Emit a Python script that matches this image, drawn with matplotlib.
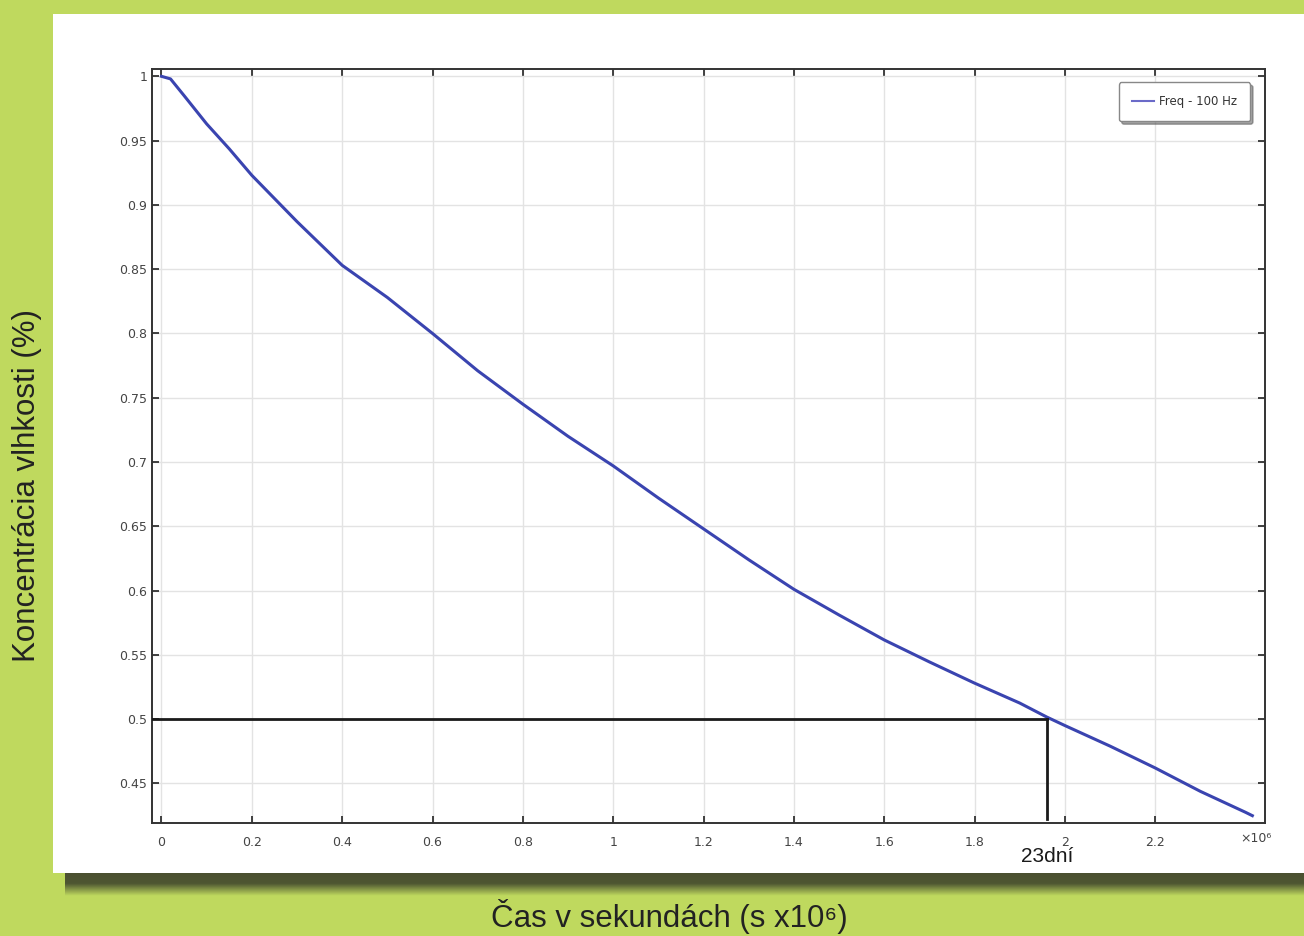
import numpy as np
import matplotlib
matplotlib.use('Agg')
import matplotlib.pyplot as plt

# curve (time in s x10^6, concentration)
cas = [0.0, 0.02, 0.05, 0.1, 0.15, 0.2, 0.3, 0.4, 0.5, 0.6, 0.7, 0.8, 0.9, 1.0,
       1.1, 1.2, 1.3, 1.4, 1.5, 1.6, 1.7, 1.8, 1.9, 1.96, 2.0, 2.1, 2.2, 2.3,
       2.4, 2.415]
konc = [1.0, 0.998, 0.985, 0.963, 0.9436, 0.923, 0.887, 0.853, 0.828, 0.800,
        0.771, 0.745, 0.720, 0.697, 0.672, 0.648, 0.624, 0.601, 0.581, 0.5616,
        0.5445, 0.528, 0.5125, 0.5016, 0.495, 0.479, 0.462, 0.4438, 0.4275,
        0.4249]

serie_label = 'Freq - 100 Hz'
x_ticks = [0, 0.2, 0.4, 0.6, 0.8, 1, 1.2, 1.4, 1.6, 1.8, 2, 2.2]
x_labels = ['0', '0.2', '0.4', '0.6', '0.8', '1', '1.2', '1.4', '1.6', '1.8', '2', '2.2']
y_ticks = [0.45, 0.5, 0.55, 0.6, 0.65, 0.7, 0.75, 0.8, 0.85, 0.9, 0.95, 1]
y_labels = ['0.45', '0.5', '0.55', '0.6', '0.65', '0.7', '0.75', '0.8', '0.85', '0.9', '0.95', '1']
mark_x = 1.96
mark_y = 0.5
mark_text = '23dní'

green = '#bfd95e'
tick_font = ['Liberation Sans Narrow', 'DejaVu Sans']
label_font = ['Liberation Sans', 'DejaVu Sans']

fig = plt.figure(figsize=(13.04, 9.36), dpi=100)
fig.patch.set_facecolor(green)

# shadow under the white panel
sh = fig.add_axes([0.05, 0.043, 0.95, 0.026])
grad = np.linspace(0, 1, 50).reshape(-1, 1)
cm = matplotlib.colors.LinearSegmentedColormap.from_list('sh', ['#4a4f30', '#4e5632', green])
sh.imshow(grad, aspect='auto', cmap=cm, extent=[0, 1, 0, 1])
sh.axis('off')

# white panel
panel = fig.add_axes([53 / 1304, 1 - 873 / 936, 1 - 53 / 1304, (873 - 14) / 936])
panel.set_facecolor('white')
panel.set_xticks([])
panel.set_yticks([])
for s in panel.spines.values():
    s.set_visible(False)

ax = fig.add_axes([152 / 1304, 1 - 823 / 936, (1265 - 152) / 1304, (823 - 69) / 936])
ax.set_facecolor('white')

ax.plot(cas, konc, color='#3a44b0', linewidth=2.2, label=serie_label, zorder=3,
        solid_joinstyle='round')
ax.plot([-0.05, mark_x], [mark_y, mark_y], color='#1a1a1a', linewidth=2.0, zorder=4)
ax.plot([mark_x, mark_x], [mark_y, 0.4225], color='#1a1a1a', linewidth=2.0, zorder=4)

ax.set_xlim(-0.021, 2.443)
ax.set_ylim(0.4192, 1.0057)
ax.set_xticks(x_ticks)
ax.set_xticklabels(x_labels)
ax.set_yticks(y_ticks)
ax.set_yticklabels(y_labels)
ax.tick_params(direction='in', top=True, right=True, length=5, width=1.2,
               colors='#222222', labelcolor='#444444', labelsize=9)
ax.tick_params(axis='x', pad=9)
for lab in ax.get_xticklabels() + ax.get_yticklabels():
    lab.set_family(tick_font)
ax.grid(True, color='#e3e3e3', linewidth=1.0)
for s in ax.spines.values():
    s.set_color('#333333')
    s.set_linewidth(1.4)

ax.text(0.992, -0.012, '×10⁶', transform=ax.transAxes,
        ha='center', va='top', fontsize=9, color='#444444', family=tick_font)
ax.text(mark_x, 0.4005, mark_text, ha='center', va='top', fontsize=15,
        color='#1a1a1a', family=label_font)

leg = ax.legend(loc='upper right', bbox_to_anchor=(0.992, 0.99), fontsize=8.5,
                fancybox=True, shadow=True, handlelength=1.9, handletextpad=0.4,
                borderpad=1.1, edgecolor='#888888', framealpha=1)
for t in leg.get_texts():
    t.set_family(tick_font)
    t.set_color('#333333')
leg.get_lines()[0].set_color('#6a6ac8')
leg.get_lines()[0].set_linewidth(1.5)

fig.text(669 / 1304, 1 - 916 / 936, 'Čas v sekundách (s x10⁶)',
         ha='center', va='center', fontsize=22.5, color='#222222', family=label_font)
fig.text(27 / 1304, 1 - 485 / 936, 'Koncentrácia vlhkosti (%)', rotation=90,
         ha='center', va='center', fontsize=22.5, color='#222222', family=label_font)

fig.savefig('out.png', dpi=100, facecolor=fig.get_facecolor())
